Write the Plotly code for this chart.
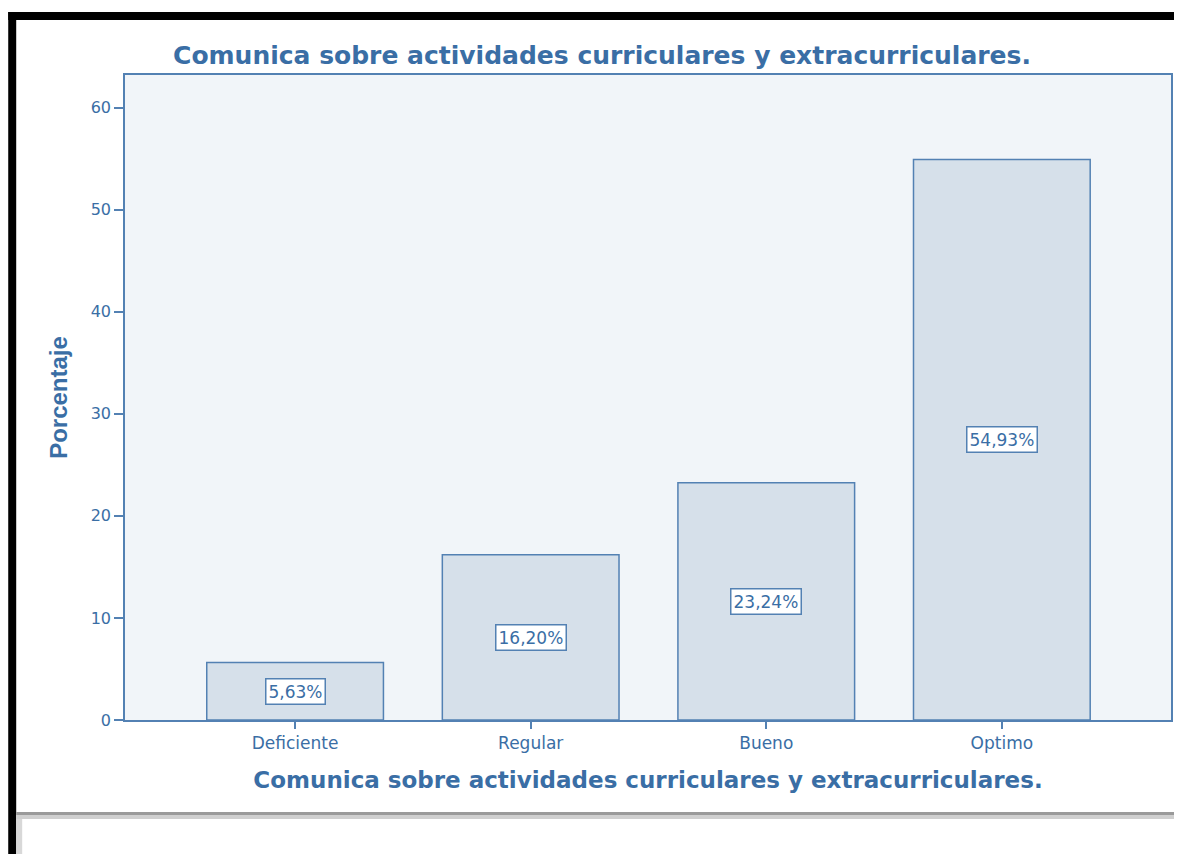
import plotly.graph_objects as go

categories = ["Deficiente", "Regular", "Bueno", "Optimo"]
percentages = [5.63, 16.20, 23.24, 54.93]
y_ticks = [0, 10, 20, 30, 40, 50, 60]
title_text = "Comunica sobre actividades curriculares y extracurriculares."
y_title = "Porcentaje"

# page body has an 8px margin, so figure coords = screen coords - 8
W, H = 1174, 846
L, R, T, B = 117, 1165, 67, 712
TXT = "#3a6ea5"
LINE = "#5381b3"
FONT = "DejaVu Sans, Verdana"

def px(x):
    return (x - L) / (R - L)

def py(y):
    return (B - y) / (B - T)

fig = go.Figure()
fig.add_trace(go.Bar(
    x=list(range(len(categories))),
    y=percentages,
    width=0.75,
    marker=dict(color="#d6e0ea", line=dict(color=LINE, width=1.5)),
    hoverinfo="skip",
))

labels = [f"{v:.2f}".replace(".", ",") + "%" for v in percentages]
for i, (v, lab) in enumerate(zip(percentages, labels)):
    fig.add_annotation(
        x=i, y=v / 2, text=lab, showarrow=False,
        font=dict(family=FONT, size=17, color=TXT),
        bgcolor="white", bordercolor=LINE, borderwidth=1.5, borderpad=2,
    )

shapes = [
    dict(type="rect", xref="paper", yref="paper", x0=px(0), x1=px(1190), y0=py(12), y1=py(4),
         fillcolor="black", line=dict(width=0), layer="above"),
    dict(type="rect", xref="paper", yref="paper", x0=px(0), x1=px(8), y0=py(860), y1=py(4),
         fillcolor="black", line=dict(width=0), layer="above"),
    dict(type="rect", xref="paper", yref="paper", x0=px(8), x1=px(1190), y0=py(807), y1=py(804),
         fillcolor="#9a9a9a", line=dict(width=0), layer="above"),
    dict(type="rect", xref="paper", yref="paper", x0=px(8), x1=px(1190), y0=py(811), y1=py(807),
         fillcolor="#cfcfcf", line=dict(width=0), layer="above"),
    dict(type="rect", xref="paper", yref="paper", x0=px(8), x1=px(14), y0=py(860), y1=py(811),
         fillcolor="#d8d8d8", line=dict(width=0), layer="above"),
]

fig.update_layout(
    width=W, height=H,
    margin=dict(l=L, r=W - R, t=T, b=H - B, pad=0),
    paper_bgcolor="white",
    plot_bgcolor="#f1f5f9",
    showlegend=False,
    shapes=shapes,
    title=dict(
        text=title_text, x=594 / W, xanchor="center", y=1 - 47 / H, yanchor="middle",
        font=dict(family=FONT, size=25, color=TXT, weight="bold"),
    ),
    xaxis=dict(
        range=[-0.722, 3.718],
        tickmode="array", tickvals=list(range(len(categories))), ticktext=categories,
        ticks="outside", ticklen=7, tickwidth=1.5, tickcolor=LINE,
        showline=True, linecolor=LINE, linewidth=1.5, mirror=True,
        showgrid=False, zeroline=False,
        tickfont=dict(family=FONT, size=17, color=TXT),
        title=dict(
            text=title_text, standoff=20,
            font=dict(family=FONT, size=23, color=TXT, weight="bold"),
        ),
    ),
    yaxis=dict(
        range=[0, 63.2],
        tickmode="array", tickvals=y_ticks,
        ticks="outside", ticklen=9, tickwidth=1.5, tickcolor=LINE,
        showline=True, linecolor=LINE, linewidth=1.5, mirror=True,
        showgrid=False, zeroline=False,
        tickfont=dict(family=FONT, size=16, color=TXT),
        title=dict(
            text=y_title, standoff=16,
            font=dict(family="Liberation Sans, Arial", size=24, color=TXT, weight="bold"),
        ),
    ),
)

fig.write_html("out.html")
